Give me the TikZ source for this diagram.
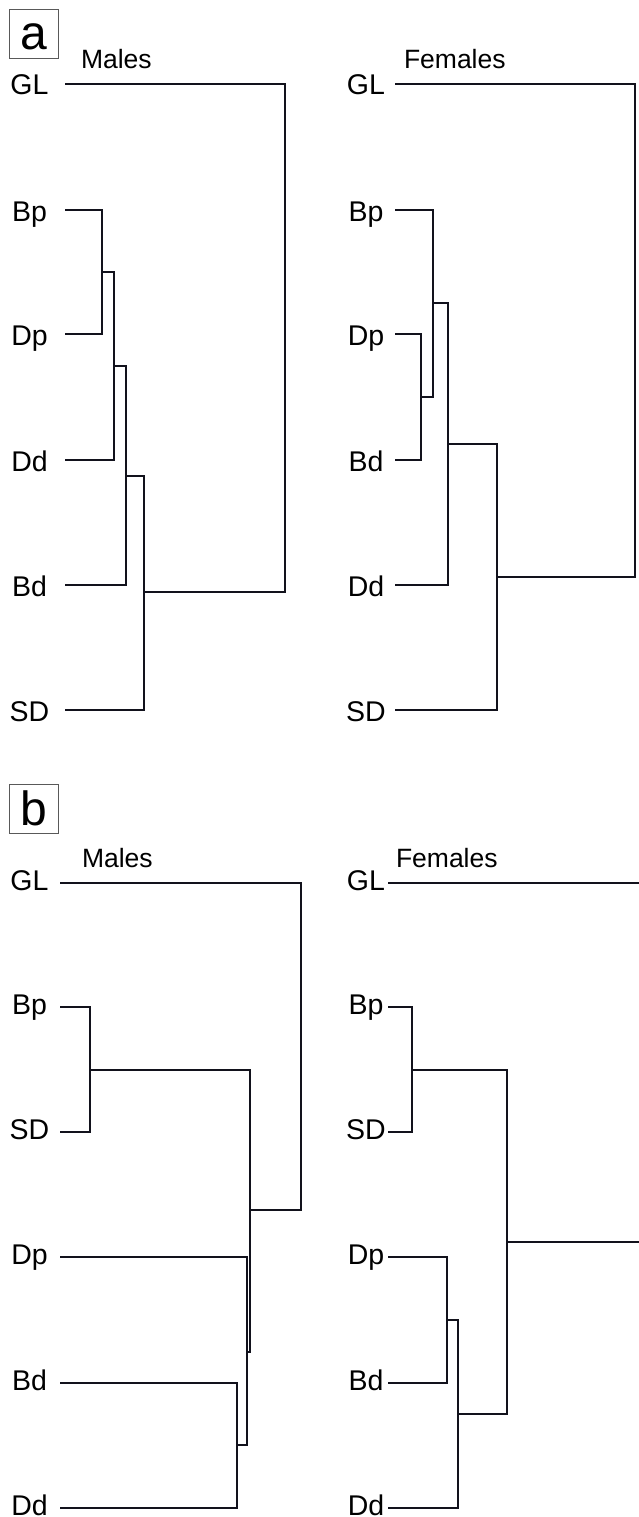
\documentclass[tikz,border=0pt]{standalone}
\usepackage{fontspec}
\setmainfont{Liberation Sans}
\definecolor{treeline}{HTML}{12121C}
\begin{document}
\begin{tikzpicture}[
		x=1pt, y=-1pt,
		every node/.style={inner sep=0, outer sep=0},
		leaf/.style={anchor=east, minimum width=#1, align=center,
			text height=22pt, text depth=0pt, font=\fontsize{28.5}{30}\selectfont},
		title/.style={anchor=base west, font=\fontsize{26.5}{28}\selectfont},
		panel/.style={draw=black!65, line width=0.8pt, minimum size=49pt,
			text height=36pt, text depth=4pt, font=\fontsize{48}{50}\selectfont},
		branch/.style={draw=treeline, line width=2.5pt, line join=miter},
	]
	\useasboundingbox (0,0) rectangle (638,1517);

	% panel a
	\node[panel] (pa) at (33.5,33.5) {a};
	\node[title] (amTitle) at (81,69) {Males};
	\node[title] (afTitle) at (404,69) {Females};
	\foreach \n/\y in {GL/84, Bp/210, Dp/334, Dd/460, Bd/585, SD/710}
		\node[leaf=71pt] (am\n) at (65,\y) {\n};
	\foreach \n/\y in {GL/84, Bp/210, Dp/334, Bd/460, Dd/585, SD/710}
		\node[leaf=58pt] (af\n) at (395,\y) {\n};
	\coordinate (am1) at (102,272);
	\coordinate (am2) at (114,366);
	\coordinate (am3) at (126,476);
	\coordinate (am4) at (144,592);
	\coordinate (am5) at (285,338);
	\draw[branch] (amBp.east) -| (am1) |- (amDp.east);
	\draw[branch] (am1) -| (am2) |- (amDd.east);
	\draw[branch] (am2) -| (am3) |- (amBd.east);
	\draw[branch] (am3) -| (am4) |- (amSD.east);
	\draw[branch] (amGL.east) -| (am5) |- (am4);
	\coordinate (af1) at (421,397);
	\coordinate (af2) at (433,303);
	\coordinate (af3) at (448,444);
	\coordinate (af4) at (497,577);
	\coordinate (af5) at (635,330);
	\draw[branch] (afDp.east) -| (af1) |- (afBd.east);
	\draw[branch] (afBp.east) -| (af2) |- (af1);
	\draw[branch] (af2) -| (af3) |- (afDd.east);
	\draw[branch] (af3) -| (af4) |- (afSD.east);
	\draw[branch] (afGL.east) -| (af5) |- (af4);

	% panel b
	\node[panel] (pb) at (33.5,809) {b};
	\node[title] (bmTitle) at (82,867) {Males};
	\node[title] (bfTitle) at (396,867) {Females};
	\foreach \n/\y in {GL/883, Bp/1007, SD/1132, Dp/1257, Bd/1383, Dd/1508}
		\node[leaf=61pt, text height=15pt] (bm\n) at (60,\y) {\n};
	\foreach \n/\y in {GL/883, Bp/1007, SD/1132, Dp/1257, Bd/1383, Dd/1508}
		\node[leaf=44pt, text height=15pt] (bf\n) at (388,\y) {\n};
	\coordinate (bm1) at (90,1070);
	\coordinate (bm2) at (237,1445);
	\coordinate (bm3) at (247,1352);
	\coordinate (bm4) at (250,1210);
	\coordinate (bm5) at (301,1046);
	\draw[branch] (bmBp.east) -| (bm1) |- (bmSD.east);
	\draw[branch] (bmBd.east) -| (bm2) |- (bmDd.east);
	\draw[branch] (bmDp.east) -| (bm3) |- (bm2);
	\draw[branch] (bm1) -| (bm4) |- (bm3);
	\draw[branch] (bmGL.east) -| (bm5) |- (bm4);
	\coordinate (bf1) at (412,1070);
	\coordinate (bf2) at (447,1320);
	\coordinate (bf3) at (458,1414);
	\coordinate (bf4) at (507,1242);
	\coordinate (bfRoot) at (642,1242);
	\coordinate (bfTop) at (642,883);
	\draw[branch] (bfBp.east) -| (bf1) |- (bfSD.east);
	\draw[branch] (bfDp.east) -| (bf2) |- (bfBd.east);
	\draw[branch] (bf2) -| (bf3) |- (bfDd.east);
	\draw[branch] (bf1) -| (bf4) |- (bf3);
	\draw[branch] (bf4) -- (bfRoot);
	\draw[branch] (bfGL.east) -- (bfTop);
\end{tikzpicture}
\end{document}
